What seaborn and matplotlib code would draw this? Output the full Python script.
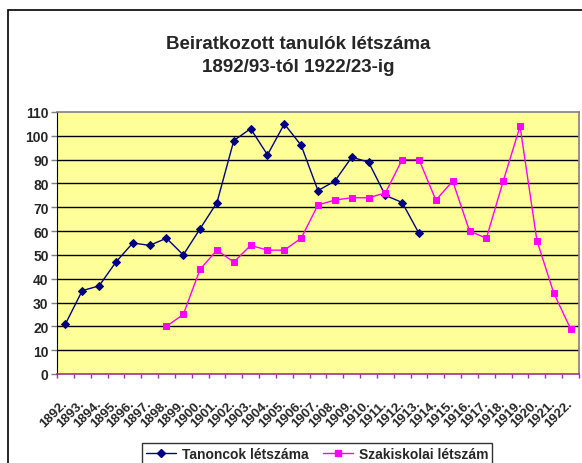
import pandas as pd
import matplotlib
matplotlib.use("Agg")
import matplotlib.pyplot as plt
import seaborn as sns
from matplotlib.lines import Line2D
from matplotlib.patches import Rectangle

# --- données ---
years = [f"{y}." for y in range(1892, 1923)]
tanoncok = [21, 35, 37, 47, 55, 54, 57, 50, 61, 72, 98, 103, 92, 105, 96,
            77, 81, 91, 89, 75, 72, 59]
szakiskolai = [20, 25, 44, 52, 47, 54, 52, 52, 57, 71, 73, 74, 74, 76, 90,
               90, 73, 81, 60, 57, 81, 104, 56, 34, 19]
szak_start = 6  # 1898.

df_tan = pd.DataFrame({"x": range(len(tanoncok)), "y": tanoncok})
df_szak = pd.DataFrame({"x": range(szak_start, szak_start + len(szakiskolai)),
                        "y": szakiskolai})

sns.set_style("white")
plt.rcParams["font.family"] = ["Liberation Sans", "DejaVu Sans"]

fig = plt.figure(figsize=(5.82, 4.64), dpi=100)
ax = fig.add_axes([57 / 582, 1 - 375 / 464, 522 / 582, 262 / 464])
ax.set_facecolor("#FFFF99")

navy = "#000080"
pink = "#FF00FF"

sns.lineplot(data=df_tan, x="x", y="y", ax=ax, color=navy, lw=1.0,
             marker="D", markersize=4.5, markeredgecolor=navy)
sns.lineplot(data=df_szak, x="x", y="y", ax=ax, color=pink, lw=1.0,
             marker="s", markersize=5, markeredgecolor=pink)

ax.set_xlim(-0.5, len(years) - 0.5)
ax.set_ylim(0, 110)
ax.set_yticks(range(0, 111, 10))
ax.set_yticklabels([str(v) for v in range(0, 111, 10)],
                   fontsize=10, fontweight="bold")
ax.set_xticks(range(len(years)))
ax.set_xticklabels(years, rotation=45, ha="right", va="center",
                   rotation_mode="anchor", fontsize=9.5, fontweight="bold")
ax.set_xticks([i - 0.5 for i in range(len(years) + 1)], minor=True)
ax.tick_params(axis="x", which="major", length=0, pad=20)
ax.tick_params(axis="x", which="minor", length=3, width=1, color="#993399",
               direction="out", bottom=True)
ax.tick_params(axis="y", length=4, width=1, color="#808080", direction="out",
               left=True, pad=2)
ax.set_xlabel("")
ax.set_ylabel("")

for v in range(10, 110, 10):
    ax.axhline(v, color="black", lw=1.0, zorder=1)

for s in ["top", "right"]:
    ax.spines[s].set_color("#808080")
    ax.spines[s].set_linewidth(1.2)
ax.spines["left"].set_color("black")
ax.spines["bottom"].set_color("#993399")
ax.spines["bottom"].set_linewidth(1.2)

fig.text(0.512, 1 - 56 / 464,
         "Beiratkozott tanulók létszáma\n1892/93-tól 1922/23-ig",
         ha="center", va="center", fontsize=13.5, fontweight="bold",
         linespacing=1.5)

handles = [
    Line2D([], [], color=navy, lw=1, marker="D", markersize=4,
           markeredgecolor=navy, label="Tanoncok létszáma"),
    Line2D([], [], color=pink, lw=1, marker="s", markersize=4.5,
           markeredgecolor=pink, label="Szakiskolai létszám"),
]
leg = fig.legend(handles=handles, loc="center", ncol=2,
                 bbox_to_anchor=(317 / 582, 1 - 455 / 464),
                 prop={"weight": "bold", "size": 10}, frameon=True,
                 fancybox=False, edgecolor="black", handlelength=2.2,
                 handletextpad=0.4, columnspacing=1.0, borderpad=0.3)
leg.get_frame().set_linewidth(1.0)

fig.patches.append(Rectangle((8 / 582, -0.02), 1.0, (464 - 11) / 464 + 0.02,
                             transform=fig.transFigure, fill=False,
                             edgecolor="black", lw=1.2))

fig.savefig("out.png", dpi=100)
